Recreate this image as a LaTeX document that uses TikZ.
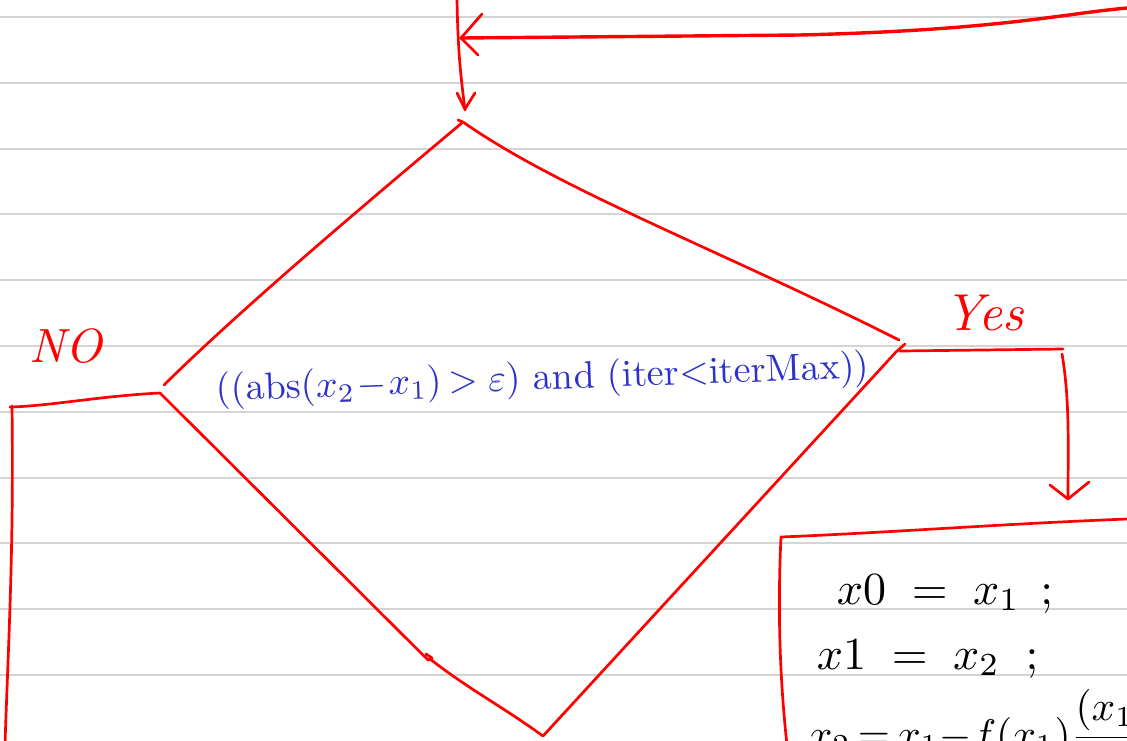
\documentclass[tikz,border=0pt]{standalone}
\usepackage{amsmath}
\usepackage{tikz}
\usetikzlibrary{calc}
\definecolor{ink}{RGB}{255,0,0}
\definecolor{blueink}{RGB}{45,50,200}
\definecolor{ruleline}{RGB}{212,212,212}
\tikzset{
  rulestyle/.style={draw=ruleline, line width=1.3pt},
  pen/.style={draw=ink, line width=2.7pt, line cap=round, line join=round},
  thickpen/.style={draw=ink, line width=3.4pt, line cap=round, line join=round},
  redlabel/.style={text=ink, font=\itshape, inner sep=0pt},
  bluetext/.style={text=blueink, inner sep=0pt, scale=3.8},
  boxtext/.style={text=black, inner sep=0pt, anchor=base west, scale=4.6}
}
\begin{document}
\begin{tikzpicture}[x=1pt,y=-1pt]
\useasboundingbox (0,0) rectangle (1127,740);
\clip (0,0) rectangle (1127,740);
\fill[white] (0,0) rectangle (1127,740);
% ruled paper
\foreach \yy in {17,83,149,214,280,346,412,478,543,609,675}
  \draw[rulestyle] (0,\yy) -- (1127,\yy);

% named points
\coordinate (topIn) at (457,0);
\coordinate (loopR) at (1127,8);
\coordinate (loopTip) at (461,38);
\coordinate (downTip) at (465,110);
\coordinate (dT) at (463,122);
\coordinate (dL) at (160,393);
\coordinate (dLu) at (164,385);
\coordinate (dB) at (543,736);
\coordinate (dR) at (905,344);
\coordinate (dRu) at (899,340);
\coordinate (noEnd) at (10,407);
\coordinate (noDown) at (5,745);
\coordinate (yesCorner) at (1063,349);
\coordinate (yesTip) at (1068,499);
\coordinate (boxTL) at (781,537);
\coordinate (boxTR) at (1127,519);
\coordinate (boxBL) at (787,745);

% incoming loop arrow from the right
\draw[thickpen] (loopR) .. controls (1060,14) and (1000,30) .. (800,35) -- (loopTip);
\draw[pen] ($(loopTip)+(21,-24)$) -- (loopTip) -- ($(loopTip)+(17,17)$);

% vertical arrow into the diamond
\draw[pen] (topIn) .. controls (458,50) and (460,70) .. (downTip);
\draw[pen] ($(downTip)+(-8,-17)$) -- ($(downTip)+(0,-1)$) -- ($(downTip)+(10,-17)$);

% diamond (decision)
\draw[pen] (dT) .. controls (400,175) and (250,300) .. (dLu);
\draw[pen] (dT) .. controls (560,190) and (720,250) .. (dRu);
\draw[pen] (dL) -- (428,660) -- (432,658) -- (426,654);
\draw[pen] (430,659) .. controls (470,690) and (500,705) .. (dB);
\draw[pen] (dB) -- (896,352) -- (dR);
\draw[pen] (dT) -- ($(dT)+(-5,-2)$);

% NO branch
\draw[pen] (dL) .. controls (100,396) and (50,406) .. (noEnd);
\draw[pen] (12,406) .. controls (14,550) and (8,650) .. (noDown);
\node[redlabel, scale=4.8] (no) at (66,346) {NO};

% Yes branch
\draw[pen] (900,351) -- (yesCorner);
\draw[pen] (1062,354) .. controls (1070,400) and (1068,450) .. (yesTip);
\draw[pen] ($(yesTip)+(-18,-14)$) -- (yesTip) -- ($(yesTip)+(21,-17)$);
\node[redlabel, scale=5.2] (yes) at (984,313) {Yes};

% condition text
\node[bluetext, rotate=2] (cond) at (543,380)
  {((abs($x_2\!-\!x_1$)\,$>\varepsilon$) and (iter$<$iterMax))};

% process box
\draw[pen] (boxTL) .. controls (900,532) and (1000,524) .. (boxTR);
\draw[pen] (boxTL) .. controls (777,620) and (781,690) .. (boxBL);
\node[boxtext] (l1) at (836,604) {$x0\;=\;x_1\;\,;$};
\node[boxtext] (l2) at (816,669) {$x1\;=\;x_2\;\;;$};
\node[boxtext, scale=0.9] (l3) at (808,748)
  {$x_2\,{=}\,x_1{-}f(x_1)\dfrac{\rlap{$(x_1-x_0)$}\phantom{f(x_1)-f(x_0)}}{f(x_1)-f(x_0)}$};
\end{tikzpicture}
\end{document}
